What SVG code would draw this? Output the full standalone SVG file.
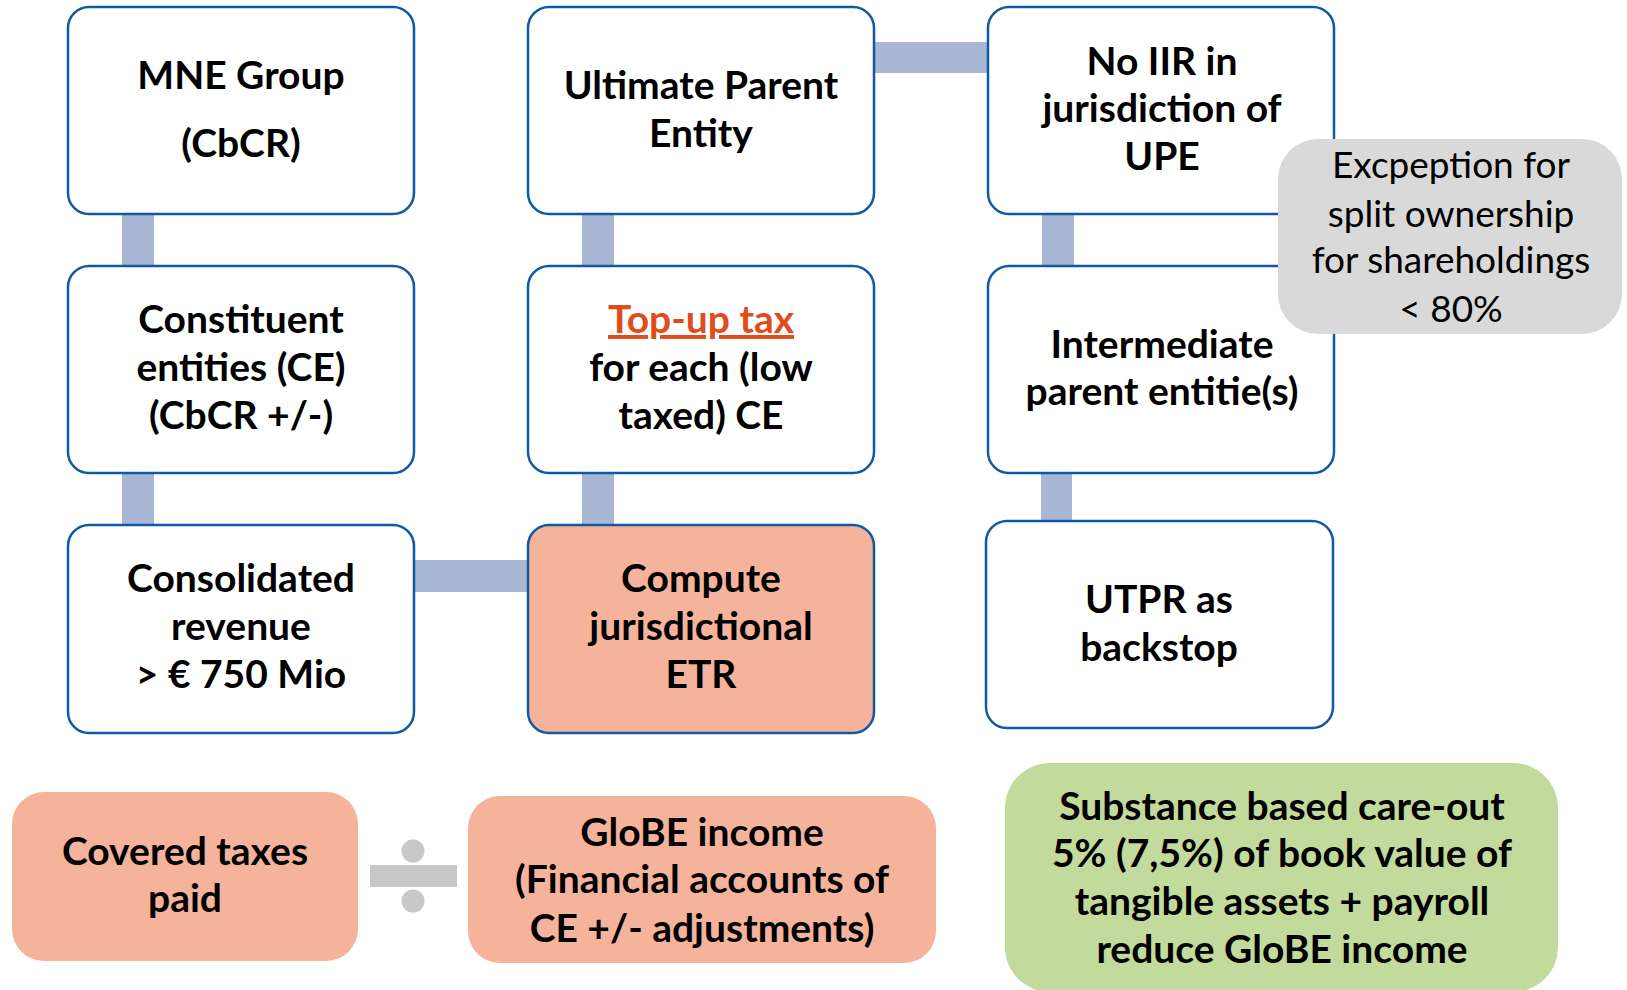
<svg xmlns="http://www.w3.org/2000/svg" width="1627" height="990" viewBox="0 0 1627 990">
<style>
.box{fill:#ffffff;stroke:#0f5aa2;stroke-width:2.5}
.hot{fill:#f5b39c;stroke:#0f5aa2;stroke-width:2.5}
.plain{fill:#f5b39c}
.grey{fill:#d9d9d9}
.green{fill:#c2da9c}
.con{fill:#a8b7d3}
.t{font-family:Lato,"Liberation Sans",sans-serif;font-weight:700;font-size:39px;fill:#000;text-anchor:middle}
.tg{font-family:Lato,"Liberation Sans",sans-serif;font-weight:400;font-size:37px;fill:#000;text-anchor:middle}
.red{fill:#e04c1c;text-decoration:underline}
</style>
<rect width="1627" height="990" fill="#ffffff"/>
<g id="connectors">
<rect class="con" x="122" y="212" width="32" height="56"/>
<rect class="con" x="122" y="471" width="32" height="56"/>
<rect class="con" x="582" y="212" width="32" height="56"/>
<rect class="con" x="582" y="471" width="32" height="56"/>
<rect class="con" x="872" y="42" width="118" height="31"/>
<rect class="con" x="412" y="560" width="118" height="32"/>
<rect class="con" x="1042" y="212" width="32" height="56"/>
<rect class="con" x="1041" y="471" width="31" height="52"/>
</g>
<g id="mne">
<rect class="box" x="68" y="7" width="346" height="207" rx="21"/>
<text class="t" x="241" y="89">MNE Group</text>
<text class="t" x="241" y="157">(CbCR)</text>
</g>
<g id="ce">
<rect class="box" x="68" y="266" width="346" height="207" rx="21"/>
<text class="t" x="241" y="333">Constituent</text>
<text class="t" x="241" y="381">entities (CE)</text>
<text class="t" x="241" y="429">(CbCR +/-)</text>
</g>
<g id="consolidated">
<rect class="box" x="68" y="525" width="346" height="208" rx="21"/>
<text class="t" x="241" y="592">Consolidated</text>
<text class="t" x="241" y="640">revenue</text>
<text class="t" x="241" y="688">&gt; € 750 Mio</text>
</g>
<g id="upe">
<rect class="box" x="528" y="7" width="346" height="207" rx="21"/>
<text class="t" x="701" y="99">Ultimate Parent</text>
<text class="t" x="701" y="147">Entity</text>
</g>
<g id="topup">
<rect class="box" x="528" y="266" width="346" height="207" rx="21"/>
<text class="t red" x="701" y="333">Top-up tax</text>
<text class="t" x="701" y="381">for each (low</text>
<text class="t" x="701" y="429">taxed) CE</text>
</g>
<g id="compute">
<rect class="hot" x="528" y="525" width="346" height="208" rx="21"/>
<text class="t" x="701" y="592">Compute</text>
<text class="t" x="701" y="640">jurisdictional</text>
<text class="t" x="701" y="688">ETR</text>
</g>
<g id="noiir">
<rect class="box" x="988" y="7" width="346" height="207" rx="21"/>
<text class="t" x="1162" y="75">No IIR in</text>
<text class="t" x="1162" y="122">jurisdiction of</text>
<text class="t" x="1162" y="170">UPE</text>
</g>
<g id="intermediate">
<rect class="box" x="988" y="266" width="346" height="207" rx="21"/>
<text class="t" x="1162" y="358">Intermediate</text>
<text class="t" x="1162" y="405">parent entitie(s)</text>
</g>
<g id="utpr">
<rect class="box" x="986" y="521" width="347" height="207" rx="21"/>
<text class="t" x="1159" y="613">UTPR as</text>
<text class="t" x="1159" y="661">backstop</text>
</g>
<g id="exception">
<rect class="grey" x="1278" y="139" width="344" height="195" rx="40"/>
<text class="tg" x="1451" y="178">Excpeption for</text>
<text class="tg" x="1451" y="227">split ownership</text>
<text class="tg" x="1451" y="273">for shareholdings</text>
<text class="tg" x="1451" y="322">&lt; 80%</text>
</g>
<g id="covered">
<rect class="plain" x="12" y="792" width="346" height="169" rx="32"/>
<text class="t" x="185" y="865">Covered taxes</text>
<text class="t" x="185" y="912">paid</text>
</g>
<g id="divide">
<rect x="370" y="865" width="87" height="22" fill="#c8c8c8"/>
<circle cx="413" cy="851" r="11.5" fill="#c8c8c8"/>
<circle cx="413" cy="901" r="11.5" fill="#c8c8c8"/>
</g>
<g id="globe">
<rect class="plain" x="468" y="796" width="468" height="167" rx="32"/>
<text class="t" x="702" y="846">GloBE income</text>
<text class="t" x="702" y="893">(Financial accounts of</text>
<text class="t" x="702" y="942">CE +/- adjustments)</text>
</g>
<g id="substance">
<rect class="green" x="1005" y="763" width="553" height="229" rx="45"/>
<text class="t" x="1282" y="820">Substance based care-out</text>
<text class="t" x="1282" y="867">5% (7,5%) of book value of</text>
<text class="t" x="1282" y="915">tangible assets + payroll</text>
<text class="t" x="1282" y="963">reduce GloBE income</text>
</g>
</svg>
